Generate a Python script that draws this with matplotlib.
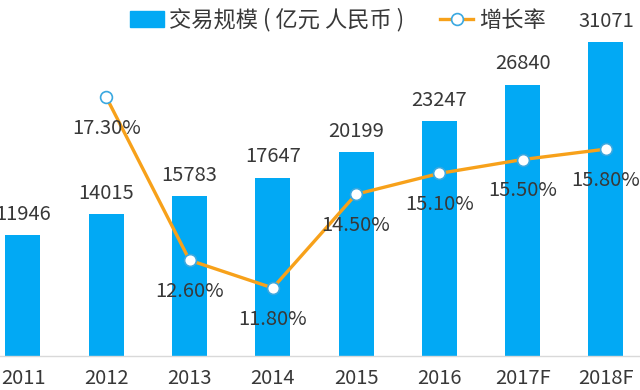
import numpy as np
import matplotlib.pyplot as plt
from matplotlib.lines import Line2D
from matplotlib.patches import Patch

plt.rcParams['font.family'] = ['Noto Sans CJK SC', 'DejaVu Sans']

years = ['2011', '2012', '2013', '2014', '2015', '2016', '2017F', '2018F']
scale = [11946, 14015, 15783, 17647, 20199, 23247, 26840, 31071]
growth_years = ['2012', '2013', '2014', '2015', '2016', '2017F', '2018F']
growth = [17.30, 12.60, 11.80, 14.50, 15.10, 15.50, 15.80]

bar_color = '#02A9F4'
line_color = '#F7A11A'
text_color = '#383838'

fig = plt.figure(figsize=(6.4, 3.9), dpi=100)
ax = fig.add_axes([0, 34/390, 1, 336/390])
x = np.arange(len(years))
ax.bar(x, scale, width=0.42, color=bar_color, zorder=2)
ax.set_xlim(-0.276, 7.41)
ax.set_ylim(0, 33234)
# value labels above the bars
for xi, v in zip(x, scale):
    ax.annotate(str(v), (xi, v), xytext=(0, 11), textcoords='offset points',
                ha='center', va='baseline', fontsize=14.5, color=text_color)

for s in ['top', 'left', 'right']:
    ax.spines[s].set_visible(False)
ax.spines['bottom'].set_color('#d9d9d9')
ax.spines['bottom'].set_linewidth(1)
ax.set_yticks([])
ax.set_xticks(x)
ax.set_xticklabels(years, fontsize=14.5, color=text_color)
ax.tick_params(axis='x', length=0, pad=9)

# growth rate on a hidden second axis
ax2 = ax.twinx()
ax2.set_ylim(9.84, 19.52)
ax2.axis('off')
gx = [years.index(y) for y in growth_years]
ax2.plot(gx, growth, color=line_color, lw=2.4, marker='o', ms=8.5,
         mfc='white', mec='#3AA8E0', mew=1.2, zorder=3)
for xi, v in zip(gx, growth):
    ax2.annotate(f'{v:.2f}%', (xi, v), xytext=(0, -26.5), textcoords='offset points',
                 ha='center', va='baseline', fontsize=14.5, color=text_color)

handles = [Patch(color=bar_color),
           Line2D([], [], color=line_color, lw=2.4, marker='o', ms=8.5,
                  mfc='white', mec='#3AA8E0', mew=1.2)]
labels = ['交易规模 ( 亿元 人民币 )', '增长率']
fig.legend(handles, labels, loc='center', bbox_to_anchor=(0.528, 370/390), ncol=2,
           frameon=False, fontsize=16, handlelength=1.5, handleheight=0.7,
           handletextpad=0.25, columnspacing=1.6, labelcolor=text_color)

fig.savefig('out.png', dpi=100)
